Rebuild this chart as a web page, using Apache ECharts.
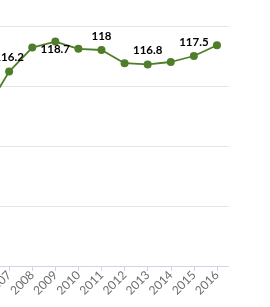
<!DOCTYPE html>
<html>
<head>
<meta charset="utf-8">
<script src="https://cdn.jsdelivr.net/npm/echarts@6/dist/echarts.min.js"></script>
<style>
  html, body { margin: 0; padding: 0; background: #fff; }
  #chart { width: 270px; height: 307px; }
</style>
</head>
<body>
<div id="chart"></div>
<script>
// years (2006 sits just off the left edge, as in the cropped original)
var years = ['2006', '2007', '2008', '2009', '2010', '2011', '2012', '2013', '2014', '2015', '2016']
var values = [113.0, 116.2, 118.2, 118.7, 118.1, 118.0, 116.9, 116.8, 117.0, 117.5, 118.4]
// which points carry a value label, and where
var labelPos = ['', 'top', '', 'bottom', '', 'top', '', 'top', '', 'top', '']

var yMin = 100
var yMax = 120
var yStep = 5

var green = '#4f7d2a'

var myEchart = echarts.init(document.getElementById('chart'))

var seriesData = values.map(function (v, i) {
  var item = { value: v }
  if (labelPos[i]) {
    item.label = {
      show: true,
      position: labelPos[i],
      distance: labelPos[i] === 'bottom' ? -2 : 4
    }
  }
  return item
})

var options = {
  animation: false,
  grid: {
    left: -25.5,
    right: 41.5,
    top: 26,
    bottom: 41,
    containLabel: false,
    outerBoundsMode: 'none'
  },
  xAxis: {
    type: 'category',
    boundaryGap: true,
    data: years,
    axisLine: {
      show: true,
      lineStyle: { color: '#cdd6e6', width: 1 }
    },
    axisTick: {
      show: true,
      alignWithLabel: true,
      length: 5,
      lineStyle: { color: '#cdd6e6' }
    },
    axisLabel: {
      rotate: 45,
      margin: 7,
      interval: 0,
      color: '#6e6e6e',
      fontSize: 12,
      fontFamily: 'Lato'
    },
    splitLine: { show: false }
  },
  yAxis: {
    type: 'value',
    min: yMin,
    max: yMax,
    interval: yStep,
    axisLine: { show: false },
    axisTick: { show: false },
    axisLabel: { show: false },
    splitLine: {
      show: true,
      lineStyle: { color: '#e4e4e4', width: 1 }
    }
  },
  series: [
    {
      type: 'line',
      data: seriesData,
      symbol: 'circle',
      symbolSize: 8,
      showAllSymbol: true,
      lineStyle: { color: green, width: 1.8 },
      itemStyle: { color: green },
      label: {
        show: false,
        color: '#000',
        fontSize: 11.5,
        fontWeight: 'bold',
        fontFamily: 'Lato'
      }
    }
  ]
}

myEchart.setOption(options)
</script>
</body>
</html>
